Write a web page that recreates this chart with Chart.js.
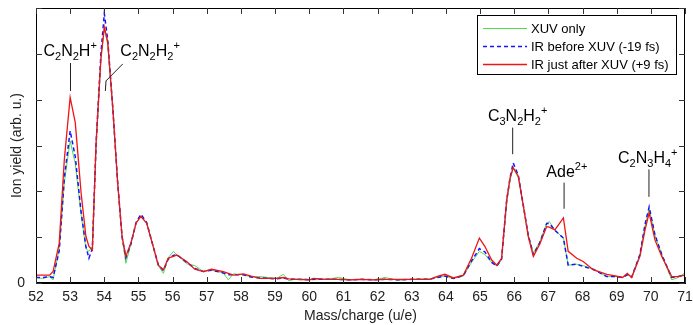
<!DOCTYPE html>
<html>
<head>
<meta charset="utf-8">
<script src="https://cdn.jsdelivr.net/npm/chart.js@4.4.1/dist/chart.umd.min.js"></script>
<style>
  html, body { margin: 0; padding: 0; background: #fff; }
  #wrap { width: 693px; height: 325px; }
</style>
</head>
<body>
<div id="wrap"><canvas id="myChart" width="693" height="325"></canvas></div>
<script>
const masses = [52.0, 52.2, 52.4, 52.5, 52.68, 52.83, 53.0, 53.15, 53.32, 53.46, 53.55, 53.65, 53.76, 53.9, 54.0, 54.1, 54.25, 54.39, 54.52, 54.63,
  54.78, 54.93, 55.07, 55.24, 55.43, 55.58, 55.73, 55.87, 56.02, 56.12, 56.41, 56.65, 56.9, 57.14, 57.48, 57.63, 57.78, 58.07, 58.3, 58.56,
  58.8, 59.05, 59.24, 59.4, 59.63, 60.02, 60.12, 60.5, 60.85, 61.2, 61.5, 61.9, 62.22, 62.6, 63.0, 63.53, 63.73, 63.97, 64.22, 64.51,
  64.75, 64.98, 65.14, 65.34, 65.49, 65.63, 65.78, 65.88, 65.97, 66.12, 66.27, 66.41, 66.56, 66.75, 66.95, 67.03, 67.19, 67.44, 67.58, 67.83,
  68.02, 68.31, 68.71, 69.0, 69.17, 69.31, 69.44, 69.68, 69.83, 69.95, 70.12, 70.32, 70.61, 70.8, 71.0];

const xuvOnly = [0.12, 0.10, 0.14, 0.07, 0.75, 2.20, 3.10, 2.60, 1.50, 0.75, 0.69, 0.80, 3.00, 4.90, 5.55, 5.20, 3.80, 2.20, 1.00, 0.43,
  0.85, 1.30, 1.47, 1.30, 0.80, 0.38, 0.21, 0.55, 0.69, 0.62, 0.42, 0.38, 0.25, 0.28, 0.22, 0.07, 0.20, 0.18, 0.13, 0.14,
  0.12, 0.10, 0.19, 0.05, 0.09, 0.08, 0.07, 0.08, 0.12, 0.07, 0.08, 0.07, 0.12, 0.06, 0.08, 0.09, 0.12, 0.15, 0.10, 0.15,
  0.45, 0.69, 0.62, 0.45, 0.37, 0.50, 1.75, 2.25, 2.50, 2.30, 1.65, 1.05, 0.65, 0.90, 1.30, 1.34, 1.15, 0.98, 0.39, 0.41,
  0.38, 0.30, 0.14, 0.14, 0.12, 0.18, 0.14, 0.62, 1.25, 1.62, 1.05, 0.62, 0.07, 0.12, 0.22];

const irBefore = [0.12, 0.12, 0.14, 0.12, 0.70, 2.30, 3.32, 2.75, 1.55, 0.80, 0.54, 0.75, 3.05, 5.00, 5.88, 5.30, 3.80, 2.20, 1.00, 0.55,
  0.85, 1.32, 1.50, 1.32, 0.80, 0.40, 0.27, 0.52, 0.60, 0.62, 0.45, 0.32, 0.25, 0.28, 0.22, 0.18, 0.18, 0.18, 0.13, 0.11,
  0.10, 0.09, 0.11, 0.08, 0.08, 0.07, 0.08, 0.08, 0.08, 0.07, 0.08, 0.07, 0.08, 0.07, 0.08, 0.08, 0.12, 0.15, 0.10, 0.16,
  0.48, 0.75, 0.68, 0.45, 0.37, 0.52, 1.80, 2.30, 2.62, 2.35, 1.68, 1.05, 0.62, 0.88, 1.30, 1.30, 1.15, 0.98, 0.39, 0.41,
  0.36, 0.30, 0.14, 0.14, 0.12, 0.18, 0.13, 0.62, 1.28, 1.66, 1.05, 0.62, 0.12, 0.14, 0.18];

const irAfter = [0.17, 0.17, 0.17, 0.25, 0.87, 2.70, 4.05, 3.50, 1.97, 1.02, 0.80, 0.72, 3.07, 4.89, 5.58, 5.26, 3.79, 2.19, 1.02, 0.58,
  0.88, 1.31, 1.45, 1.31, 0.80, 0.39, 0.29, 0.54, 0.58, 0.61, 0.47, 0.30, 0.25, 0.30, 0.25, 0.21, 0.17, 0.20, 0.15, 0.10,
  0.10, 0.10, 0.12, 0.09, 0.08, 0.07, 0.10, 0.08, 0.08, 0.07, 0.08, 0.07, 0.08, 0.08, 0.08, 0.08, 0.14, 0.19, 0.11, 0.17,
  0.54, 0.98, 0.80, 0.50, 0.39, 0.54, 1.82, 2.30, 2.52, 2.33, 1.67, 1.02, 0.58, 0.85, 1.23, 1.22, 1.16, 1.42, 0.69, 0.54,
  0.47, 0.29, 0.19, 0.15, 0.12, 0.21, 0.12, 0.58, 1.16, 1.53, 0.94, 0.58, 0.14, 0.14, 0.17];

const seriesNames = ['XUV only', 'IR before XUV (-19 fs)', 'IR just after XUV (+9 fs)'];

// peak labels: text pieces ('' normal, 'b' subscript, 'p' superscript), text anchor and pointer line in data units
const peakLabels = [
  { parts: [['C',''],['2','b'],['N',''],['2','b'],['H',''],['+','p']], x: 53.0, y: 4.95, line: [[53.01, 4.80], [53.01, 4.19]] },
  { parts: [['C',''],['2','b'],['N',''],['2','b'],['H',''],['2','b'],['+','p']], x: 55.34, y: 4.95, line: [[54.54, 4.78], [54.05, 4.41], [54.03, 4.19]] },
  { parts: [['C',''],['3','b'],['N',''],['2','b'],['H',''],['2','b'],['+','p']], x: 66.1, y: 3.54, line: [[65.955, 3.39], [65.955, 2.81]] },
  { parts: [['Ade',''],['2+','p']], x: 67.54, y: 2.32, line: [[67.46, 2.19], [67.46, 1.62]] },
  { parts: [['C',''],['2','b'],['N',''],['3','b'],['H',''],['4','b'],['+','p']], x: 69.91, y: 2.61, line: [[69.945, 2.48], [69.945, 1.88]] }
];

const FONT = '"Liberation Sans", Arial, sans-serif';

function pts(vals) {
  return masses.map((m, i) => ({ x: m, y: vals[i] }));
}

const decorations = {
  id: 'decorations',
  afterDatasetsDraw(chart) {
    const ctx = chart.ctx;
    const a = chart.chartArea;
    const xs = chart.scales.x, ys = chart.scales.y;
    ctx.save();
    // frame
    ctx.strokeStyle = '#000';
    ctx.lineWidth = 1;
    ctx.strokeRect(a.left + 0.5, a.top + 0.5, a.right - a.left - 1, a.bottom - a.top - 1);
    // inward ticks
    ctx.strokeStyle = '#333';
    ctx.beginPath();
    xs.ticks.forEach(t => {
      const px = Math.round(xs.getPixelForValue(t.value)) + 0.5;
      ctx.moveTo(px, a.bottom); ctx.lineTo(px, a.bottom - 6);
      ctx.moveTo(px, a.top); ctx.lineTo(px, a.top + 6);
    });
    ys.ticks.forEach(t => {
      const py = Math.round(ys.getPixelForValue(t.value)) + 0.5;
      ctx.moveTo(a.left, py); ctx.lineTo(a.left + 6, py);
      ctx.moveTo(a.right, py); ctx.lineTo(a.right - 6, py);
    });
    ctx.stroke();

    // peak labels
    peakLabels.forEach(lab => {
      ctx.strokeStyle = '#222';
      ctx.lineWidth = 1;
      ctx.beginPath();
      lab.line.forEach((p, i) => {
        const px = xs.getPixelForValue(p[0]), py = ys.getPixelForValue(p[1]);
        if (i === 0) ctx.moveTo(px, py); else ctx.lineTo(px, py);
      });
      ctx.stroke();
      let w = 0;
      lab.parts.forEach(p => {
        ctx.font = (p[1] ? '11px ' : '16px ') + FONT;
        w += ctx.measureText(p[0]).width;
      });
      let cx = xs.getPixelForValue(lab.x) - w / 2;
      const by = ys.getPixelForValue(lab.y);
      ctx.fillStyle = '#000';
      ctx.textBaseline = 'alphabetic';
      ctx.textAlign = 'left';
      lab.parts.forEach(p => {
        ctx.font = (p[1] ? '11px ' : '16px ') + FONT;
        const dy = p[1] === 'b' ? 4 : (p[1] === 'p' ? -7 : 0);
        ctx.fillText(p[0], cx, by + dy);
        cx += ctx.measureText(p[0]).width;
      });
    });

    // legend box
    const lx = a.right - 208, ly = a.top + 7, lw = 199, lh = 59;
    ctx.fillStyle = '#fff';
    ctx.fillRect(lx, ly, lw, lh);
    ctx.strokeStyle = '#000';
    ctx.lineWidth = 1;
    ctx.strokeRect(lx + 0.5, ly + 0.5, lw, lh);
    ctx.font = '13px ' + FONT;
    ctx.textBaseline = 'middle';
    chart.data.datasets.slice().sort((d1, d2) => d1.legendIndex - d2.legendIndex).forEach((ds, i) => {
      const ry = ly + 13.5 + i * 18;
      ctx.strokeStyle = ds.borderColor;
      ctx.lineWidth = ds.borderWidth;
      ctx.setLineDash(ds.borderDash || []);
      ctx.beginPath();
      ctx.moveTo(lx + 6, ry); ctx.lineTo(lx + 50, ry);
      ctx.stroke();
      ctx.setLineDash([]);
      ctx.fillStyle = '#000';
      ctx.fillText(ds.label, lx + 54, ry + 1);
    });
    ctx.restore();
  }
};

const ctx = document.getElementById('myChart');
new Chart(ctx, {
  type: 'line',
  data: {
    datasets: [
      { label: seriesNames[2], legendIndex: 2, data: pts(irAfter), borderColor: 'rgb(240,20,20)', borderWidth: 1.3, order: 0 },
      { label: seriesNames[1], legendIndex: 1, data: pts(irBefore), borderColor: 'rgb(20,20,255)', borderWidth: 1.5, borderDash: [4, 3], order: 1 },
      { label: seriesNames[0], legendIndex: 0, data: pts(xuvOnly), borderColor: 'rgb(80,220,80)', borderWidth: 1, order: 2 }
    ]
  },
  options: {
    responsive: false,
    animation: false,
    elements: { point: { radius: 0 }, line: { tension: 0 } },
    layout: { padding: 0 },
    plugins: { legend: { display: false }, tooltip: { enabled: false } },
    scales: {
      x: {
        type: 'linear',
        min: 52, max: 71,
        grid: { display: false, drawTicks: false },
        border: { display: true, color: '#000' },
        ticks: { stepSize: 1, padding: 6, color: '#222', font: { family: FONT, size: 14 }, maxRotation: 0, autoSkip: false },
        title: { display: true, text: 'Mass/charge (u/e)', color: '#222', font: { family: FONT, size: 14 }, padding: { top: 0, bottom: 0 } },
        afterFit(scale) { scale.height = 42; scale.paddingLeft = 0; scale.paddingRight = 8; }
      },
      y: {
        min: 0, max: 6,
        grid: { display: false, drawTicks: false },
        border: { display: true, color: '#000' },
        ticks: { stepSize: 1, padding: 11, color: '#222', font: { family: FONT, size: 14 },
          callback: v => (v === 0 ? '0' : '') },
        title: { display: true, text: 'Ion yield (arb. u.)', color: '#222', font: { family: FONT, size: 14 }, padding: { top: 9, bottom: 0 } },
        afterFit(scale) { scale.width = 36; scale.paddingTop = 8; scale.paddingBottom = 0; }
      }
    }
  },
  plugins: [decorations]
});
</script>
</body>
</html>
